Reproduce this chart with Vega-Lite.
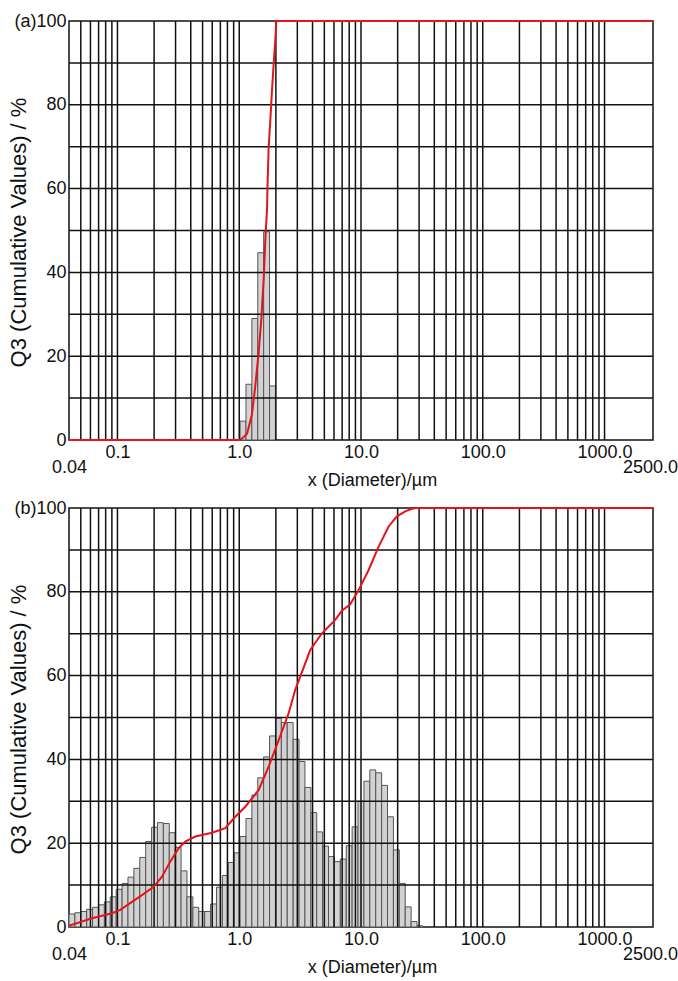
{
  "$schema": "https://vega.github.io/schema/vega-lite/v6.json",
  "background": "white",
  "padding": {"left": 6, "top": 11, "right": 0, "bottom": 0},
  "config": {
    "font": "Liberation Sans",
    "view": {"stroke": "#111", "strokeWidth": 1.5},
    "axis": {"labelFont": "Liberation Sans", "titleFont": "Liberation Sans", "labelFontSize": 18, "titleFontSize": 18, "labelColor": "#111", "titleColor": "#111", "titleFontWeight": "normal", "ticks": false, "domain": false, "grid": false},
    "concat": {"spacing": 8}
  },
  "datasets": {
    "gridx": [{"v":0.05},{"v":0.06},{"v":0.07},{"v":0.08},{"v":0.09},{"v":0.1},{"v":0.2},{"v":0.3},{"v":0.4},{"v":0.5},{"v":0.6},{"v":0.7},{"v":0.8},{"v":0.9},{"v":1},{"v":2},{"v":3},{"v":4},{"v":5},{"v":6},{"v":7},{"v":8},{"v":9},{"v":10},{"v":20},{"v":30},{"v":40},{"v":50},{"v":60},{"v":70},{"v":80},{"v":90},{"v":100},{"v":200},{"v":300},{"v":400},{"v":500},{"v":600},{"v":700},{"v":800},{"v":900},{"v":1000}],
    "gridy": [{"v":10},{"v":20},{"v":30},{"v":40},{"v":50},{"v":60},{"v":70},{"v":80},{"v":90}],
    "hist_a": [
      {"x0":1.016,"x1":1.136,"q":4.5},
      {"x0":1.136,"x1":1.27,"q":13.3},
      {"x0":1.27,"x1":1.42,"q":29},
      {"x0":1.42,"x1":1.587,"q":44.7},
      {"x0":1.587,"x1":1.774,"q":49.7},
      {"x0":1.774,"x1":1.984,"q":12.9}
    ],
    "cum_a": [
      {"x":0.04,"Q":0},{"x":1.0,"Q":0},{"x":1.05,"Q":0.3},{"x":1.16,"Q":1.5},{"x":1.27,"Q":6},{"x":1.35,"Q":12.5},{"x":1.44,"Q":20.5},{"x":1.52,"Q":29},{"x":1.59,"Q":38.7},{"x":1.636,"Q":47.5},{"x":1.668,"Q":52},{"x":1.69,"Q":54.7},{"x":1.712,"Q":61.8},{"x":1.744,"Q":69.8},{"x":1.798,"Q":76},{"x":1.857,"Q":83.3},{"x":1.917,"Q":89.7},{"x":1.976,"Q":95.2},{"x":2.014,"Q":100},{"x":2500,"Q":100}
    ],
    "hist_b": [
      {"x0":0.04,"x1":0.04472,"q":3.1},
      {"x0":0.04472,"x1":0.05,"q":3.4},
      {"x0":0.05,"x1":0.0559,"q":3.7},
      {"x0":0.0559,"x1":0.0625,"q":4.2},
      {"x0":0.0625,"x1":0.06988,"q":4.7},
      {"x0":0.06988,"x1":0.07812,"q":5.3},
      {"x0":0.07812,"x1":0.08734,"q":6.0},
      {"x0":0.08734,"x1":0.09765,"q":7.2},
      {"x0":0.09765,"x1":0.1092,"q":9.0},
      {"x0":0.1092,"x1":0.122,"q":10.4},
      {"x0":0.122,"x1":0.1364,"q":11.9},
      {"x0":0.1364,"x1":0.1525,"q":14.0},
      {"x0":0.1525,"x1":0.1705,"q":16.6},
      {"x0":0.1705,"x1":0.1907,"q":20.4},
      {"x0":0.1907,"x1":0.2132,"q":23.8},
      {"x0":0.2132,"x1":0.2383,"q":24.9},
      {"x0":0.2383,"x1":0.2664,"q":24.7},
      {"x0":0.2664,"x1":0.2979,"q":22.5},
      {"x0":0.2979,"x1":0.333,"q":19.0},
      {"x0":0.333,"x1":0.3723,"q":13.4},
      {"x0":0.3723,"x1":0.4162,"q":7.2},
      {"x0":0.4162,"x1":0.4653,"q":4.7},
      {"x0":0.4653,"x1":0.5203,"q":3.7},
      {"x0":0.5203,"x1":0.5816,"q":3.7},
      {"x0":0.5816,"x1":0.6503,"q":5.5},
      {"x0":0.6503,"x1":0.727,"q":9.5},
      {"x0":0.727,"x1":0.8128,"q":12.3},
      {"x0":0.8128,"x1":0.9087,"q":15.4},
      {"x0":0.9087,"x1":1.016,"q":17.7},
      {"x0":1.016,"x1":1.136,"q":21.6},
      {"x0":1.136,"x1":1.27,"q":25.9},
      {"x0":1.27,"x1":1.42,"q":31.5},
      {"x0":1.42,"x1":1.587,"q":35.6},
      {"x0":1.587,"x1":1.774,"q":40.6},
      {"x0":1.774,"x1":1.984,"q":45.6},
      {"x0":1.984,"x1":2.218,"q":49.8},
      {"x0":2.218,"x1":2.479,"q":48.8},
      {"x0":2.479,"x1":2.772,"q":48.8},
      {"x0":2.772,"x1":3.099,"q":44.8},
      {"x0":3.099,"x1":3.465,"q":39.5},
      {"x0":3.465,"x1":3.873,"q":33.3},
      {"x0":3.873,"x1":4.331,"q":27.3},
      {"x0":4.331,"x1":4.841,"q":22.7},
      {"x0":4.841,"x1":5.413,"q":19.3},
      {"x0":5.413,"x1":6.051,"q":16.8},
      {"x0":6.051,"x1":6.765,"q":15.6},
      {"x0":6.765,"x1":7.564,"q":16.2},
      {"x0":7.564,"x1":8.456,"q":19.4},
      {"x0":8.456,"x1":9.454,"q":23.9},
      {"x0":9.454,"x1":10.57,"q":30.0},
      {"x0":10.57,"x1":11.82,"q":34.8},
      {"x0":11.82,"x1":13.21,"q":37.5},
      {"x0":13.21,"x1":14.77,"q":36.8},
      {"x0":14.77,"x1":16.51,"q":33.8},
      {"x0":16.51,"x1":18.46,"q":26.3},
      {"x0":18.46,"x1":20.64,"q":18.4},
      {"x0":20.64,"x1":23.08,"q":10.4},
      {"x0":23.08,"x1":25.8,"q":4.8},
      {"x0":25.8,"x1":28.84,"q":1.3},
      {"x0":28.84,"x1":32.25,"q":0.3}
    ],
    "cum_b": [
      {"x":0.04,"Q":0.3},{"x":0.0618,"Q":2.1},{"x":0.0902,"Q":3.3},{"x":0.1055,"Q":4.1},{"x":0.1316,"Q":6.0},{"x":0.159,"Q":7.6},{"x":0.1984,"Q":9.6},{"x":0.232,"Q":12},{"x":0.2714,"Q":15.6},{"x":0.318,"Q":18.8},{"x":0.3605,"Q":20.4},{"x":0.4355,"Q":21.6},{"x":0.597,"Q":22.5},{"x":0.768,"Q":23.6},{"x":0.928,"Q":26.3},{"x":1.121,"Q":28.7},{"x":1.444,"Q":32.7},{"x":1.745,"Q":38.3},{"x":2.108,"Q":44.6},{"x":2.546,"Q":51},{"x":2.884,"Q":56.6},{"x":3.83,"Q":66.1},{"x":4.78,"Q":70.1},{"x":6.14,"Q":73.3},{"x":6.97,"Q":75.5},{"x":8.16,"Q":77},{"x":9.56,"Q":80.4},{"x":11.55,"Q":85.2},{"x":13.96,"Q":90.8},{"x":16.86,"Q":95.6},{"x":19.73,"Q":98},{"x":23.08,"Q":99.2},{"x":26.2,"Q":99.8},{"x":28.25,"Q":100},{"x":2500,"Q":100}
    ]
  },
  "vconcat": [
    {
      "width": 584,
      "height": 419,
      "layer": [
        {
          "data": {"name": "hist_a"},
          "mark": {"type": "rect", "fill": "#d2d2d2", "stroke": "#555", "strokeWidth": 1},
          "encoding": {
            "x": {"field": "x0", "type": "quantitative", "scale": {"type": "log", "domain": [0.04, 2500], "nice": false},
              "axis": {"values": [0.04, 0.1, 1, 10, 100, 1000, 2500], "labelExpr": "datum.value == 0.04 ? ['', '0.04'] : datum.value == 2500 ? ['', '2500.0'] : format(datum.value, '.1f')", "labelFlush": false, "labelOverlap": false, "labelBound": false, "labelPadding": 3, "labelLineHeight": 15, "labelOffset": {"condition": {"test": "datum.value == 2500", "value": -3}, "value": 0}, "title": "x (Diameter)/µm", "titlePadding": -5, "titleX": 303}},
            "x2": {"field": "x1"},
            "y": {"field": "q", "type": "quantitative", "scale": {"domain": [0, 100], "nice": false},
              "axis": {"values": [0,10,20,30,40,50,60,70,80,90,100], "labelExpr": "datum.value == 100 ? '(a)100' : (datum.value % 20 == 0 ? datum.label : '')", "labelOverlap": false, "labelPadding": 3, "title": "Q3 (Cumulative Values) / %", "titleFontSize": 22, "titleBaseline": "middle", "titleX": -51, "titleY": 211}},
            "y2": {"datum": 0}
          }
        },
        {
          "data": {"name": "gridx"},
          "mark": {"type": "rule", "color": "#111", "strokeWidth": 1.5},
          "encoding": {"x": {"field": "v", "type": "quantitative"}}
        },
        {
          "data": {"name": "gridy"},
          "mark": {"type": "rule", "color": "#111", "strokeWidth": 1.5},
          "encoding": {"y": {"field": "v", "type": "quantitative"}}
        },
        {
          "data": {"name": "cum_a"},
          "mark": {"type": "line", "color": "#e3141b", "strokeWidth": 2},
          "encoding": {
            "x": {"field": "x", "type": "quantitative"},
            "y": {"field": "Q", "type": "quantitative"}
          }
        }
      ]
    },
    {
      "width": 584,
      "height": 419,
      "layer": [
        {
          "data": {"name": "hist_b"},
          "mark": {"type": "rect", "fill": "#d2d2d2", "stroke": "#555", "strokeWidth": 1},
          "encoding": {
            "x": {"field": "x0", "type": "quantitative", "scale": {"type": "log", "domain": [0.04, 2500], "nice": false},
              "axis": {"values": [0.04, 0.1, 1, 10, 100, 1000, 2500], "labelExpr": "datum.value == 0.04 ? ['', '0.04'] : datum.value == 2500 ? ['', '2500.0'] : format(datum.value, '.1f')", "labelFlush": false, "labelOverlap": false, "labelBound": false, "labelPadding": 3, "labelLineHeight": 15, "labelOffset": {"condition": {"test": "datum.value == 2500", "value": -3}, "value": 0}, "title": "x (Diameter)/µm", "titlePadding": -5, "titleX": 303}},
            "x2": {"field": "x1"},
            "y": {"field": "q", "type": "quantitative", "scale": {"domain": [0, 100], "nice": false},
              "axis": {"values": [0,10,20,30,40,50,60,70,80,90,100], "labelExpr": "datum.value == 100 ? '(b)100' : (datum.value % 20 == 0 ? datum.label : '')", "labelOverlap": false, "labelPadding": 3, "title": "Q3 (Cumulative Values) / %", "titleFontSize": 22, "titleBaseline": "middle", "titleX": -51, "titleY": 211}},
            "y2": {"datum": 0}
          }
        },
        {
          "data": {"name": "gridx"},
          "mark": {"type": "rule", "color": "#111", "strokeWidth": 1.5},
          "encoding": {"x": {"field": "v", "type": "quantitative"}}
        },
        {
          "data": {"name": "gridy"},
          "mark": {"type": "rule", "color": "#111", "strokeWidth": 1.5},
          "encoding": {"y": {"field": "v", "type": "quantitative"}}
        },
        {
          "data": {"name": "cum_b"},
          "mark": {"type": "line", "color": "#e3141b", "strokeWidth": 2},
          "encoding": {
            "x": {"field": "x", "type": "quantitative"},
            "y": {"field": "Q", "type": "quantitative"}
          }
        }
      ]
    }
  ]
}
